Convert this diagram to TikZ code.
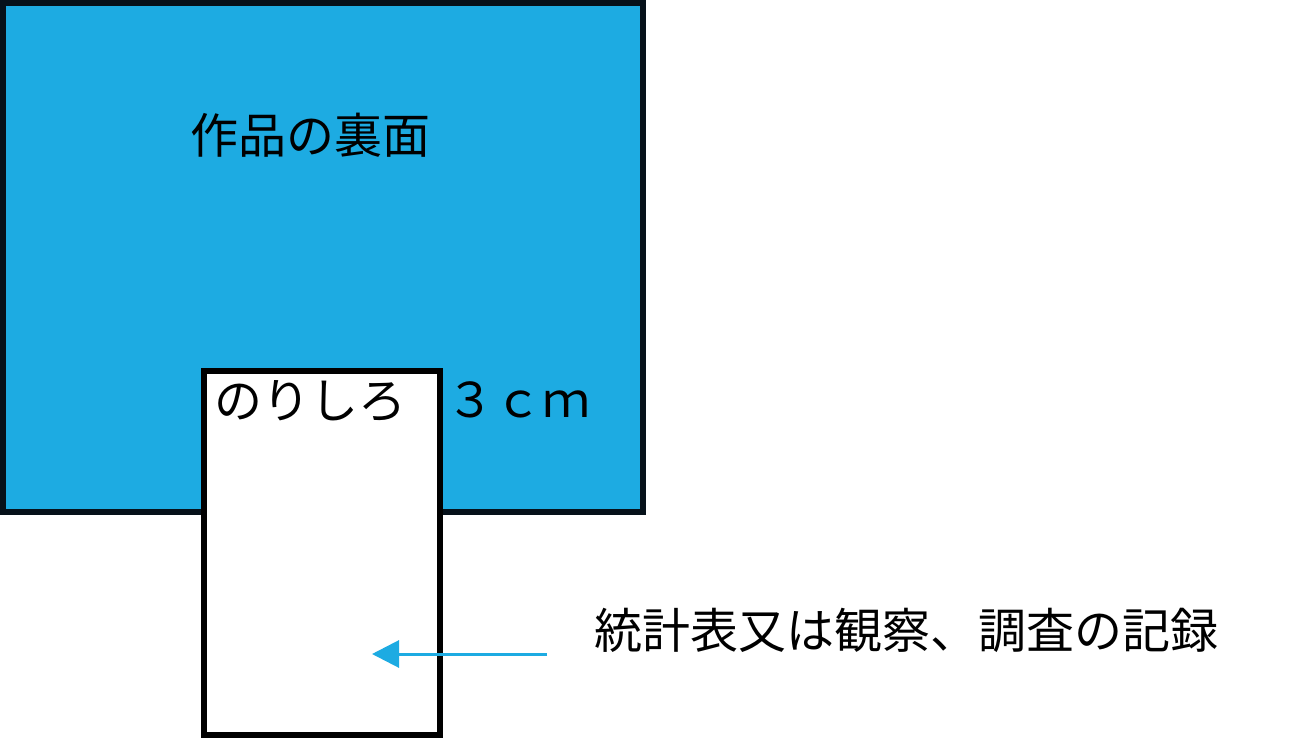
\documentclass[tikz,border=0pt]{standalone}
\usepackage{fontspec}
\setmainfont{Noto Sans CJK JP}
\usetikzlibrary{arrows.meta}
\definecolor{panelblue}{HTML}{1DABE2}
\definecolor{darkedge}{HTML}{06111A}
\tikzset{
  lbl/.style={font=\fontsize{48}{50}\selectfont, inner sep=0pt, anchor=base},
}
\begin{document}
\begin{tikzpicture}[x=1pt,y=-1pt]
\useasboundingbox (0,0) rectangle (1303,738);
\draw[fill=panelblue, draw=darkedge, line width=6pt] (3,3) rectangle (642.5,511.5);
\node[lbl] (title) at (310,154) {作品の裏面};
\draw[fill=white, draw=black, line width=6pt] (203.5,371) rectangle (440,734.5);
\node[lbl] (nori) at (310,418) {のりしろ};
\node[lbl] (cm) at (518,417) {３ｃｍ};
\node[lbl, anchor=base west] (rec) at (594,648) {統計表又は観察、調査の記録};
\coordinate (tail) at (547,654);
\coordinate (tip) at (372,654);
\draw[panelblue, line width=3pt, -{Triangle[length=27pt,width=27pt]}] (tail) -- (tip);
\end{tikzpicture}
\end{document}
